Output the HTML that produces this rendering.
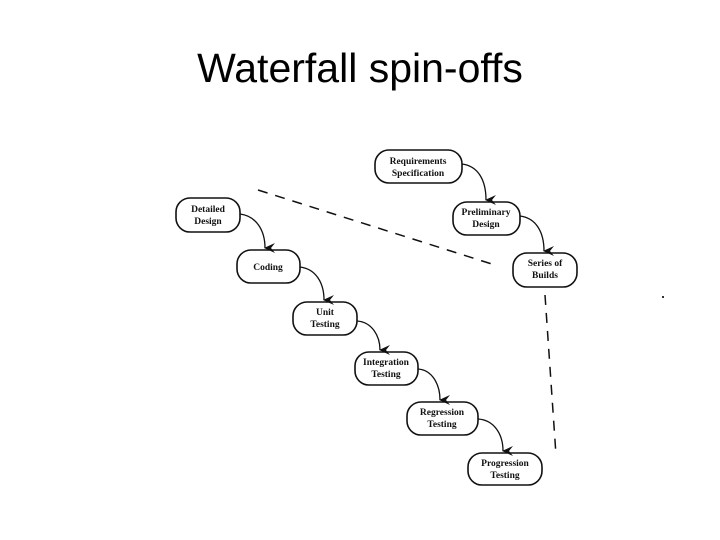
<!DOCTYPE html>
<html><head><meta charset="utf-8"><style>
html,body{margin:0;padding:0;background:#fff;width:720px;height:540px;overflow:hidden}
.t{position:absolute;left:0;width:720px;top:45px;text-align:center;font-family:"Liberation Sans",sans-serif;font-size:41px;color:#000}
svg{position:absolute;left:0;top:0}
text{font-family:"Liberation Serif",serif;font-size:9.5px;fill:#111;font-weight:600}
</style></head><body>
<div class="t">Waterfall spin-offs</div>
<svg width="720" height="540" viewBox="0 0 720 540">
<defs><marker id="a" markerWidth="10" markerHeight="11" refX="5" refY="10" orient="auto" markerUnits="userSpaceOnUse"><path d="M0,0 L5,11 L10,0 L5,4 Z" fill="#111"/></marker></defs>
<g fill="#fff" stroke="#111" stroke-width="1.6">
<rect x="375" y="150" width="87" height="33" rx="14"/>
<rect x="453" y="202" width="67" height="33" rx="14"/>
<rect x="513" y="253" width="64" height="34" rx="14"/>
<rect x="176" y="198" width="64" height="34" rx="14"/>
<rect x="237" y="250" width="63" height="33" rx="14"/>
<rect x="293" y="302" width="64" height="33" rx="14"/>
<rect x="355" y="352" width="63" height="33" rx="14"/>
<rect x="407" y="402" width="71" height="33" rx="14"/>
<rect x="468" y="453" width="74" height="32" rx="14"/>
</g>
<g fill="none" stroke="#111" stroke-width="1.3">
<path d="M462,164 C478,166 486,180 486,200" marker-end="url(#a)"/>
<path d="M520,216 C536,218 544,232 544,251" marker-end="url(#a)"/>
<path d="M240,214 C256,216 265,230 265,248" marker-end="url(#a)"/>
<path d="M300,267 C316,269 324,283 324,300" marker-end="url(#a)"/>
<path d="M357,321 C372,322 380,336 380,350" marker-end="url(#a)"/>
<path d="M418,369 C432,370 440,384 440,400" marker-end="url(#a)"/>
<path d="M478,419 C494,420 503,434 503,451" marker-end="url(#a)"/>
</g>
<g stroke="#111" stroke-width="1.5" stroke-dasharray="10,8" fill="none">
<line x1="258" y1="190" x2="495" y2="265"/>
<line x1="545" y1="295" x2="556" y2="455"/>
</g>
<rect x="662" y="296" width="2" height="2" fill="#333"/>
<g text-anchor="middle">
<text x="418" y="164">Requirements</text><text x="418" y="176">Specification</text>
<text x="486" y="215">Preliminary</text><text x="486" y="227">Design</text>
<text x="545" y="266">Series of</text><text x="545" y="278">Builds</text>
<text x="208" y="212">Detailed</text><text x="208" y="224">Design</text>
<text x="268" y="270">Coding</text>
<text x="325" y="315">Unit</text><text x="325" y="327">Testing</text>
<text x="386" y="365">Integration</text><text x="386" y="377">Testing</text>
<text x="442" y="415">Regression</text><text x="442" y="427">Testing</text>
<text x="505" y="466">Progression</text><text x="505" y="478">Testing</text>
</g>
</svg>
</body></html>
